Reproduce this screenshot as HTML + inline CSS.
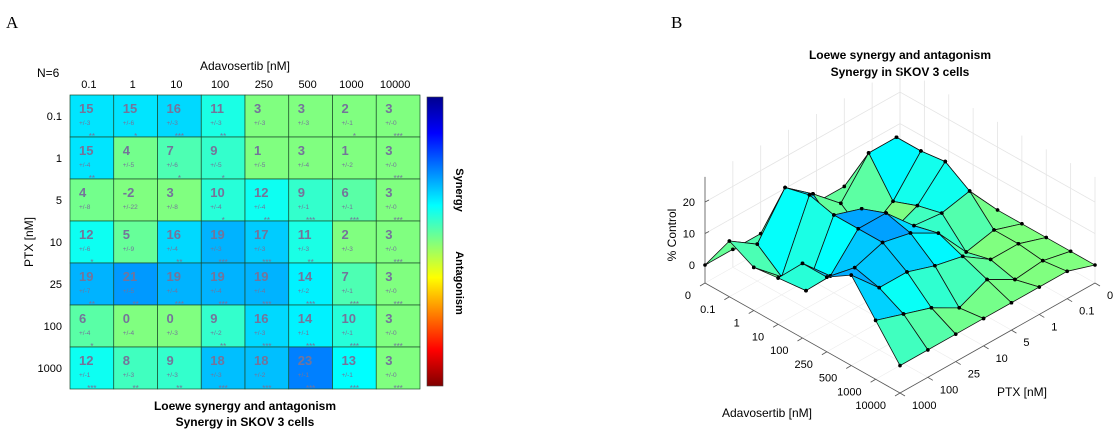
<!DOCTYPE html>
<html><head><meta charset="utf-8">
<style>
body{margin:0;background:#fff;width:1117px;height:436px;overflow:hidden;font-family:"Liberation Sans",Arial,sans-serif}
svg text{font-family:"Liberation Sans",Arial,sans-serif}
</style></head>
<body>
<svg id="s" width="1117" height="436" viewBox="0 0 1117 436">
<defs>
<linearGradient id="jet" x1="0" y1="0" x2="0" y2="1">
<stop offset="0" stop-color="#00008f"/><stop offset="0.125" stop-color="#0000ff"/>
<stop offset="0.375" stop-color="#00ffff"/><stop offset="0.5" stop-color="#80ff80"/>
<stop offset="0.625" stop-color="#ffff00"/><stop offset="0.875" stop-color="#ff0000"/>
<stop offset="1" stop-color="#800000"/></linearGradient>
</defs>
<text x="6" y="28" style="font-family:'Liberation Serif',serif" font-size="17">A</text>
<text x="671" y="28" style="font-family:'Liberation Serif',serif" font-size="17">B</text>
<text x="37" y="77" font-size="12">N=6</text>
<text x="245" y="70" font-size="12" text-anchor="middle">Adavosertib [nM]</text>
<text transform="translate(33,242) rotate(-90)" font-size="12" text-anchor="middle">PTX [nM]</text>
<g id="hm"></g>
<rect x="427" y="97" width="16" height="289" fill="url(#jet)" stroke="#444" stroke-width="0.6"/>
<text transform="translate(456,190) rotate(90)" font-size="11" font-weight="bold" text-anchor="middle">Synergy</text>
<text transform="translate(456,283) rotate(90)" font-size="11" font-weight="bold" text-anchor="middle">Antagonism</text>
<text x="245" y="410" font-size="12" font-weight="bold" text-anchor="middle">Loewe synergy and antagonism</text>
<text x="245" y="426" font-size="12" font-weight="bold" text-anchor="middle">Synergy in SKOV 3 cells</text>
<text x="900" y="59" font-size="12" font-weight="bold" text-anchor="middle">Loewe synergy and antagonism</text>
<text x="900" y="76" font-size="12" font-weight="bold" text-anchor="middle">Synergy in SKOV 3 cells</text>
<g id="sf"></g>
</svg>
<script>
const adavLabels=["0.1","1","10","100","250","500","1000","10000"];
const ptxLabels=["0.1","1","5","10","25","100","1000"];
const synergy=[
[15,15,16,11,3,3,2,3],
[15,4,7,9,1,3,1,3],
[4,-2,3,10,12,9,6,3],
[12,5,16,19,17,11,2,3],
[19,21,19,19,19,14,7,3],
[6,0,0,9,16,14,10,3],
[12,8,9,18,18,23,13,3]];
const errors=[
[3,6,3,3,3,3,1,0],
[4,5,6,5,5,4,2,0],
[8,22,8,4,4,1,1,0],
[6,9,4,3,3,3,3,0],
[7,5,4,4,4,2,1,0],
[4,4,3,2,3,1,1,0],
[1,3,3,3,2,1,1,0]];
const stars=[
["**","*","***","**","","","*","***"],
["**","","*","*","","","","***"],
["","","","*","**","***","***","***"],
["*","","**","***","***","**","","***"],
["**","**","***","***","***","***","***","***"],
["*","","","**","***","***","***","***"],
["***","**","**","***","***","***","***","***"]];
const zTicks=[0,10,20];
const adavAxis=["0","0.1","1","10","100","250","500","1000","10000"];
const ptxAxis=["0","0.1","1","5","10","25","100","1000"];

const NS="http://www.w3.org/2000/svg";
function mk(t,a,p){const e=document.createElementNS(NS,t);for(const k in a)e.setAttribute(k,a[k]);p.appendChild(e);return e;}
function jet(t){t=Math.max(0,Math.min(1,t));const c=x=>Math.round(255*Math.max(0,Math.min(1,x)));
return `rgb(${c(1.5-Math.abs(4*t-3))},${c(1.5-Math.abs(4*t-2))},${c(1.5-Math.abs(4*t-1))})`;}
function col(v){return jet(0.5-Math.max(0,v-3)/80);}

// heatmap
const hm=document.getElementById('hm');
const X0=70,Y0=95,CW=43.75,CH=42;
const xCell=i=>X0+i*CW, yCell=j=>Y0+j*CH;
adavLabels.forEach((l,i)=>{const t=mk('text',{x:xCell(i)+CW/2-3,y:88,'font-size':11,'text-anchor':'middle'},hm);t.textContent=l;
});
ptxLabels.forEach((l,j)=>{const t=mk('text',{x:62,y:yCell(j)+CH/2+4,'font-size':11,'text-anchor':'end'},hm);t.textContent=l;
});
synergy.forEach((row,j)=>row.forEach((v,i)=>{
 const g=mk('g',{},hm);
 
 
 mk('rect',{x:xCell(i),y:yCell(j),width:CW,height:CH,fill:col(v),stroke:'#1a4a2a','stroke-width':0.7},g);
 const a=mk('text',{x:xCell(i)+9,y:yCell(j)+18,'font-size':13,'font-weight':'bold',fill:'#74749a'},g);a.textContent=v;
 const b=mk('text',{x:xCell(i)+9,y:yCell(j)+30,'font-size':6.5,fill:'#74749a'},g);b.textContent='+/-'+errors[j][i];
 const c=mk('text',{x:xCell(i)+CW/2,y:yCell(j)+44,'font-size':8,fill:'#74749a','text-anchor':'middle'},g);c.textContent=stars[j][i];
}));

// surface
const sf=document.getElementById('sf');
const NI=adavAxis.length-1, NJ=ptxAxis.length-1;
const ZF=-5.7,ZS=3.15,ZTOP=28;
function P(i,j,z){return [705+i*195/NI+(NJ-j)*195/NJ, 283+i*110/NI-(NJ-j)*110/NJ-(z-ZF)*ZS];}
function Z(i,j){return (i===0||j===0)?0:synergy[j-1][i-1];}
const ln=(a,b,s,w)=>mk('line',{x1:a[0],y1:a[1],x2:b[0],y2:b[1],stroke:s,'stroke-width':w},sf);
for(let k=0;k<=NJ;k++){ln(P(0,k,ZF),P(0,k,ZTOP),'#e4e4e4',0.8);ln(P(0,k,ZF),P(NI,k,ZF),'#ececec',0.6);}
for(let k=0;k<=NI;k++){ln(P(k,0,ZF),P(k,0,ZTOP),'#e4e4e4',0.8);ln(P(k,0,ZF),P(k,NJ,ZF),'#ececec',0.6);}
zTicks.forEach(z=>{ln(P(0,NJ,z),P(0,0,z),'#e4e4e4',0.8);ln(P(0,0,z),P(NI,0,z),'#e4e4e4',0.8);
 const p=P(0,NJ,z);const t=mk('text',{x:p[0]-10,y:p[1]+4,'font-size':11,'text-anchor':'end'},sf);t.textContent=z;
 
 ln(p,[p[0]+4,p[1]-2],'#555',0.8);});
ln(P(0,NJ,ZF),P(0,NJ,ZTOP),'#555',0.8);
ln(P(0,NJ,ZF),P(NI,NJ,ZF),'#555',0.8);ln(P(NI,NJ,ZF),P(NI,0,ZF),'#555',0.8);
const quads=[];
for(let i=0;i<NI;i++)for(let j=0;j<NJ;j++)quads.push([i,j]);
quads.sort((a,b)=>(a[0]/NI+a[1]/NJ)-(b[0]/NI+b[1]/NJ));
quads.forEach(([i,j])=>{
 const c=[[i,j],[i+1,j],[i+1,j+1],[i,j+1]];
 const avg=c.map(q=>Z(q[0],q[1])).reduce((s,x)=>s+x,0)/4;
 const pts=c.map(q=>P(q[0],q[1],Z(q[0],q[1])).join(',')).join(' ');
 const p=mk('polygon',{points:pts,fill:col(avg*1.1),stroke:'#111','stroke-width':0.8,'stroke-linejoin':'round'},sf);
 
 
 c.forEach(q=>{const v=P(q[0],q[1],Z(q[0],q[1]));
  const d=mk('circle',{cx:v[0],cy:v[1],r:1.8,fill:'#000'},sf);
  
  });
});
adavAxis.forEach((l,i)=>{const p=P(i,NJ,ZF);const t=mk('text',{x:p[0]-14,y:p[1]+16,'font-size':11,'text-anchor':'end'},sf);t.textContent=l;
 
 ln(p,[p[0]-5,p[1]+3],'#555',0.8);});
ptxAxis.forEach((l,k)=>{const p=P(NI,k,ZF);const t=mk('text',{x:p[0]+12,y:p[1]+16,'font-size':11},sf);t.textContent=l;
 
 ln(p,[p[0]+5,p[1]+3],'#555',0.8);});
const t1=mk('text',{x:767,y:417,'font-size':12,'text-anchor':'middle'},sf);t1.textContent='Adavosertib [nM]';

const t2=mk('text',{x:1022,y:396,'font-size':12,'text-anchor':'middle'},sf);t2.textContent='PTX [nM]';

const t3=mk('text',{transform:'translate(676,235) rotate(-90)','font-size':12,'text-anchor':'middle'},sf);t3.textContent='% Control';

</script>
</body></html>
